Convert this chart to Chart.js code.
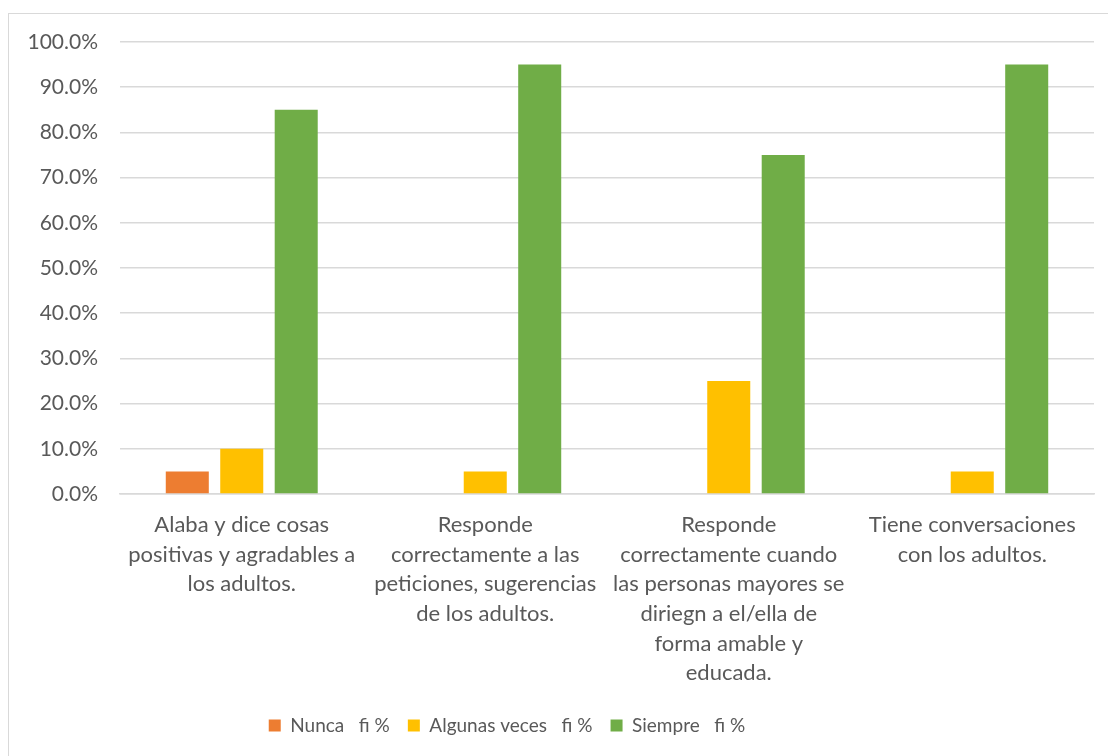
<!DOCTYPE html>
<html>
<head>
<meta charset="utf-8">
<script src="https://cdn.jsdelivr.net/npm/chart.js@4"></script>
<style>
  html, body { margin: 0; padding: 0; background: #fff; }
  #wrap { position: relative; width: 1108px; height: 756px; overflow: hidden; }
  #frame { position: absolute; left: 8px; top: 13px; width: 1130px; height: 780px;
           border: 1px solid #d9d9d9; pointer-events: none; }
  canvas { position: absolute; left: 0; top: 0; }
</style>
</head>
<body>
<div id="wrap">
  <canvas id="chart" width="1108" height="756"></canvas>
  <div id="frame"></div>
</div>
<script>
// ── Data ─────────────────────────────────────────────
const categories = [
  ['Alaba y dice cosas', 'positivas y agradables a', 'los adultos.'],
  ['Responde', 'correctamente a las', 'peticiones, sugerencias', 'de los adultos.'],
  ['Responde', 'correctamente cuando', 'las personas mayores se', 'diriegn a el/ella de', 'forma amable y', 'educada.'],
  ['Tiene conversaciones', 'con los adultos.']
];
const seriesNames = ['Nunca   fi %', 'Algunas veces   fi %', 'Siempre   fi %'];
const nunca    = [5, 0, 0, 0];
const algunas  = [10, 5, 25, 5];
const siempre  = [85, 95, 75, 95];
const COLORS   = ['#ED7D31', '#FFC000', '#70AD47'];
const TEXT     = '#595959';
const FONT     = 'Lato, "Open Sans", sans-serif';

const mkSet = (label, data, color) => ({
  label, data,
  backgroundColor: color,
  borderWidth: 0,
  categoryPercentage: 0.671,
  barPercentage: 0.79
});

// legend sits a little left of centre in the original
const legendShift = {
  id: 'legendShift',
  afterLayout(chart) {
    const lg = chart.legend;
    if (!lg) return;
    lg.left -= 40;
    lg.right -= 40;
  }
};

new Chart(document.getElementById('chart'), {
  type: 'bar',
  data: {
    labels: categories,
    datasets: [
      mkSet(seriesNames[0], nunca, COLORS[0]),
      mkSet(seriesNames[1], algunas, COLORS[1]),
      mkSet(seriesNames[2], siempre, COLORS[2])
    ]
  },
  plugins: [legendShift],
  options: {
    responsive: false,
    animation: false,
    layout: { padding: { top: 42, right: 14, left: 0, bottom: 11 } },
    scales: {
      y: {
        min: 0, max: 100,
        ticks: {
          stepSize: 10,
          padding: 22,
          color: TEXT,
          font: { family: FONT, size: 21 },
          callback: v => v.toFixed(1) + '%'
        },
        grid: { color: '#d9d9d9', lineWidth: 1.5, drawTicks: false },
        border: { display: false },
        afterFit: s => { s.width = 120; }
      },
      x: {
        ticks: {
          padding: 16,
          maxRotation: 0,
          autoSkip: false,
          color: TEXT,
          font: { family: FONT, size: 22, lineHeight: 1.35 }
        },
        grid: { display: false, drawTicks: false },
        border: { color: '#d9d9d9', width: 1.5 },
        afterFit: s => { s.height = 204; }
      }
    },
    plugins: {
      legend: {
        position: 'bottom',
        labels: {
          boxWidth: 12, boxHeight: 12,
          padding: 18,
          color: TEXT,
          font: { family: FONT, size: 19 }
        }
      },
      tooltip: { enabled: false }
    }
  }
});
</script>
</body>
</html>
